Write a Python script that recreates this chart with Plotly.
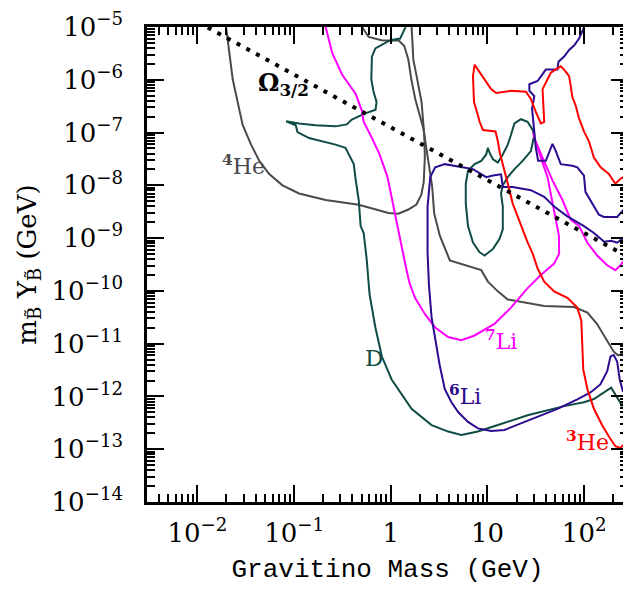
import numpy as np
import plotly.graph_objects as go

# ---------------- data (gravitino mass in GeV, m_B Y_B in GeV) ----------------
he4_a_mass = [0.0198, 0.0215, 0.0232, 0.0261, 0.0294, 0.0359, 0.0437, 0.0553, 0.0758, 0.1125,
              0.212, 0.466, 0.692, 0.947, 1.20, 1.52, 1.84, 2.07, 2.19, 2.25, 2.22, 2.08, 1.85,
              1.71, 1.67, 1.64]
he4_a_mY = [1e-5, 2.75e-6, 1.02e-6, 3.77e-7, 1.39e-7, 5.91e-8, 2.91e-8, 1.64e-8, 1.0e-8, 7.0e-9,
            5.27e-9, 4.27e-9, 3.53e-9, 2.98e-9, 2.90e-9, 3.48e-9, 4.32e-9, 6.62e-9, 1.15e-8, 3.35e-8,
            8.93e-8, 3.77e-7, 1.17e-6, 2.39e-6, 5.62e-6, 1e-5]

he4_b_mass = [0.504, 0.590, 0.802, 1.02, 1.20, 1.38, 1.52, 1.63, 1.79, 1.97, 2.17, 2.33, 2.50,
              2.68, 2.81, 3.22, 4.08, 5.82, 8.62, 10.1, 12.8, 16.2, 24.1, 38.6, 78.6, 108, 136,
              173, 202, 224, 252, 277, 291]
he4_b_mY = [1e-5, 6.47e-6, 5.62e-6, 5.46e-6, 5.62e-6, 4.35e-6, 2.39e-6, 1.02e-6, 4.34e-7, 2.29e-7,
            1.21e-7, 5.13e-8, 2.19e-8, 9.31e-9, 2.94e-9, 1.10e-9, 3.79e-10, 3.06e-10, 2.47e-10,
            1.50e-10, 9.8e-11, 6.87e-11, 5.97e-11, 5.16e-11, 4.94e-11, 3.89e-11, 2.36e-11, 1.16e-11,
            7.06e-12, 6.03e-12, 6.56e-12, 1.54e-11, 3.62e-11]

d_main_mass = [1.42, 1.25, 0.986, 0.809, 0.692, 0.638, 0.629, 0.664, 0.713, 0.696, 0.537, 0.395,
               0.351, 0.268, 0.167, 0.1125, 0.0828, 0.104, 0.1086, 0.1426, 0.195, 0.268, 0.340,
               0.367, 0.414, 0.434, 0.466, 0.488, 0.524, 0.562, 0.604, 0.692, 0.809, 1.02, 1.64,
               2.64, 3.92, 5.37, 7.96, 12.8, 26.0, 62.0, 99.5, 126, 160, 190, 219, 246, 260, 284]
d_main_mY = [1e-5, 6.04e-6, 5.62e-6, 4.54e-6, 3.94e-6, 2.75e-6, 1.02e-6, 5.85e-7, 3.82e-7, 2.71e-7,
             2.29e-7, 1.77e-7, 1.43e-7, 1.31e-7, 1.37e-7, 1.49e-7, 1.63e-7, 1.37e-7, 1.02e-7, 7.87e-8,
             6.84e-8, 5.91e-8, 5.13e-8, 3.85e-8, 2.52e-8, 1.26e-8, 5.27e-9, 1.69e-9, 1.25e-9, 4.12e-10,
             8.51e-11, 2.05e-11, 5.70e-12, 2.10e-12, 5.83e-13, 2.87e-13, 2.16e-13, 1.87e-13, 2.16e-13,
             2.87e-13, 4.40e-13, 6.55e-13, 7.76e-13, 8.93e-13, 1.19e-12, 1.47e-12, 9.6e-13, 6.75e-13,
             7.76e-13, 1.05e-12]

d_loop_mass = [10.1, 10.5, 11.4, 12.8, 14.4, 16.2, 17.5, 18.2, 19.0, 22.2, 26.0, 29.3, 30.5, 28.1,
               23.1, 19.0, 16.2, 14.4, 13.8, 14.4, 14.4, 13.3, 11.4, 9.34, 8.29, 7.08, 6.29, 5.96,
               5.96, 6.29, 7.36, 8.62, 9.70, 10.1]
d_loop_mY = [5.13e-8, 4.15e-8, 3.12e-8, 2.70e-8, 3.85e-8, 5.91e-8, 9.06e-8, 1.21e-7, 1.49e-7, 1.79e-7,
             1.60e-7, 1.12e-7, 9.06e-8, 4.46e-8, 2.91e-8, 2.03e-8, 1.43e-8, 1.0e-8, 7.0e-9, 3.96e-9,
             1.47e-9, 9.57e-10, 6.24e-10, 4.69e-10, 5.40e-10, 8.28e-10, 1.69e-9, 4.56e-9, 1.07e-8,
             1.90e-8, 2.52e-8, 2.91e-8, 3.85e-8, 5.13e-8]

li7_mass = [0.212, 0.248, 0.313, 0.434, 0.504, 0.524, 0.638, 0.766, 0.925, 1.11, 1.26, 1.42, 1.56,
            1.78, 2.26, 2.86, 3.92, 5.37, 7.36, 11.8, 17.5, 26.0, 35.6, 48.9, 55.1, 54.8, 49.3,
            41.8, 35.6, 31.6, 29.6, 31.4, 37.1, 47.0, 59.6, 72.5, 88.5, 108, 136, 173, 210, 237, 284]
li7_mY = [1e-5, 3.23e-6, 1.26e-6, 5.37e-7, 2.55e-7, 1.60e-7, 7.87e-8, 3.85e-8, 1.43e-8, 2.59e-9,
          8.9e-10, 3.06e-10, 1.42e-10, 7.38e-11, 3.62e-11, 2.05e-11, 1.34e-11, 1.16e-11, 1.43e-11,
          2.36e-11, 4.82e-11, 1.13e-10, 2.0e-10, 3.29e-10, 5.1e-10, 1.10e-9, 3.20e-9, 1.43e-8,
          3.35e-8, 6.35e-8, 9.75e-8, 6.92e-8, 3.35e-8, 1.24e-8, 5.27e-9, 2.25e-9, 1.69e-9, 8.17e-10,
          4.69e-10, 3.06e-10, 2.47e-10, 3.06e-10, 4.69e-10]

li6_a_mass = [100, 88.5, 78.6, 69.8, 62.0, 54.2, 52.9, 40.1, 33.0, 27.1, 27.1, 30.5, 28.9, 29.3,
              30.7, 31.6, 33.4, 40.1, 47.0, 50.9, 57.2, 75.5, 84.9, 99.5, 103, 116, 142, 160, 219,
              256, 284]
li6_a_mY = [1e-5, 6.04e-6, 4.44e-6, 3.67e-6, 2.75e-6, 2.20e-6, 1.56e-6, 1.56e-6, 9.48e-7, 8.22e-7,
            6.18e-7, 4.93e-7, 2.83e-7, 2.10e-7, 9.75e-8, 5.13e-8, 2.91e-8, 2.91e-8, 6.09e-8, 4.46e-8,
            2.52e-8, 2.35e-8, 2.19e-8, 1.53e-8, 7.52e-9, 5.27e-9, 2.78e-9, 2.51e-9, 2.51e-9, 3.44e-9,
            4.91e-9]

li6_b_mass = [284, 256, 219, 190, 161, 126, 99.5, 67.0, 48.9, 38.6, 28.1, 18.2, 14.4, 13.8, 11.4,
              9.70, 7.08, 5.58, 4.41, 3.62, 2.88, 2.56, 2.40, 2.40, 2.48, 2.64, 2.86, 3.22, 3.62,
              4.24, 4.97, 6.29, 7.96, 10.9, 15.0, 28.1, 52.9, 84.9, 116, 147, 173, 187, 202, 219,
              233, 252, 266, 284]
li6_b_mY = [1.10e-9, 1.02e-9, 8.17e-10, 8.9e-10, 8.53e-10, 1.25e-9, 1.69e-9, 2.59e-9, 3.96e-9,
            6.07e-9, 8.09e-9, 9.31e-9, 9.31e-9, 1.62e-8, 1.53e-8, 1.43e-8, 2.03e-8, 2.19e-8, 2.35e-8,
            2.52e-8, 2.19e-8, 1.43e-8, 3.96e-9, 5.33e-10, 1.30e-10, 3.18e-11, 1.34e-11, 3.72e-12,
            1.37e-12, 7.76e-13, 5.07e-13, 3.30e-13, 2.48e-13, 2.22e-13, 2.32e-13, 3.61e-13, 5.83e-13,
            8.83e-13, 1.19e-12, 1.69e-12, 3.0e-12, 5.70e-12, 6.11e-12, 4.60e-12, 2.10e-12, 1.23e-12,
            1.82e-12, 3.98e-12]

he3_mass = [284, 266, 237, 210, 180, 153, 126, 108, 97.9, 95.5, 93.3, 84.9, 67.0, 48.9, 38.6, 33.0,
            29.3, 26.0, 23.1, 20.5, 18.2, 16.9, 15.6, 14.4, 13.4, 12.8, 12.1, 8.97, 8.29, 7.96, 7.25,
            7.08, 7.36, 7.96, 10.9, 12.3, 17.5, 25.0, 28.1, 31.6, 35.6, 38.6, 37.1, 45.2, 57.2, 62.0,
            69.8, 72.5, 75.5, 81.6, 88.5, 99.5, 112, 126, 148, 180, 210, 237, 256, 284]
he3_mY = [1.87e-13, 1.31e-13, 1.06e-13, 1.14e-13, 1.74e-13, 2.87e-13, 5.83e-13, 1.37e-12, 3.22e-12,
          1.34e-11, 2.72e-11, 4.82e-11, 7.38e-11, 9.8e-11, 1.50e-10, 2.65e-10, 5.1e-10, 8.28e-10,
          1.47e-9, 2.59e-9, 4.56e-9, 8.09e-9, 1.43e-8, 2.52e-8, 4.15e-8, 6.84e-8, 1.05e-7, 1.12e-7,
          1.60e-7, 2.13e-7, 3.77e-7, 1.17e-6, 1.93e-6, 1.56e-6, 6.65e-7, 5.61e-7, 6.18e-7, 5.93e-7,
          4.34e-7, 2.46e-7, 1.49e-7, 1.60e-7, 6.65e-7, 1.36e-6, 1.80e-6, 1.56e-6, 1.17e-6, 7.66e-7,
          4.67e-7, 3.26e-7, 1.85e-7, 1.05e-7, 6.84e-8, 3.35e-8, 2.19e-8, 1.64e-8, 1.07e-8, 1.33e-8,
          1.43e-8, 1.15e-8]

omega_mass = [0.0128, 300]
omega_mY = [9.8e-6, 4.17e-10]

x_tick_vals = [1e-2, 1e-1, 1, 10, 100]
x_tick_text = ["10<sup>−2</sup>", "10<sup>−1</sup>", "1", "10", "10<sup>2</sup>"]
y_tick_vals = [10.0 ** e for e in range(-14, -4)]
y_tick_text = ["10<sup>−%d</sup>" % (-e) for e in range(-14, -4)]

# ---------------- styles ----------------
C_HE4 = "#4a4a4a"
C_D = "#0e4c45"
C_LI7 = "#ff00ff"
C_LI6 = "#2c0b90"
C_HE3 = "#ff0000"
FONT = "DejaVu Serif"
MONO = "Liberation Mono"

fig = go.Figure()


def add_line(x, y, color, width=2.0, dash=None):
    fig.add_trace(go.Scatter(x=x, y=y, mode="lines",
                             line=dict(color=color, width=width, dash=dash),
                             hoverinfo="skip", showlegend=False))


add_line(he4_a_mass, he4_a_mY, C_HE4)
add_line(he4_b_mass, he4_b_mY, C_HE4)
add_line(d_main_mass, d_main_mY, C_D)
add_line(d_loop_mass, d_loop_mY, C_D)
add_line(li7_mass, li7_mY, C_LI7)
add_line(li6_a_mass, li6_a_mY, C_LI6)
add_line(li6_b_mass, li6_b_mY, C_LI6)
add_line(he3_mass, he3_mY, C_HE3)
add_line(omega_mass, omega_mY, "black", width=4, dash="4px,7px")

# label text, anchor mass, anchor m_B Y_B, colour, x-anchor, font size
labels = [
    ("<sup><b>4</b></sup>He", 0.0299, 2.4e-8, C_HE4, "center", 22),
    ("<b>Ω<sub>3/2</sub></b>", 0.0407, 8.4e-7, "black", "left", 24),
    ("D", 0.664, 5.4e-12, C_D, "center", 23),
    ("<sup><b>7</b></sup>Li", 13.7, 1.15e-11, C_LI7, "center", 22),
    ("<sup><b>6</b></sup>Li", 5.86, 1.05e-12, C_LI6, "center", 22),
    ("<sup><b>3</b></sup>He", 108, 1.45e-13, C_HE3, "center", 22),
]
for txt, lx, ly, col, anc, sz in labels:
    fig.add_annotation(x=np.log10(lx), y=np.log10(ly), xref="x", yref="y", text=txt,
                       showarrow=False, xanchor=anc, yanchor="middle",
                       font=dict(family=FONT, size=sz, color=col))

minor_x = [k * 10.0 ** d for d in range(-3, 3) for k in range(2, 10)
           if 10 ** -2.521 < k * 10.0 ** d < 10 ** 2.453]
minor_y = [k * 10.0 ** d for d in range(-14, -5) for k in range(2, 10)]

axis_common = dict(type="log", showline=True, linewidth=2.5, linecolor="black", mirror="ticks",
                   ticks="inside", ticklen=17, tickwidth=2, tickcolor="black",
                   showgrid=False, zeroline=False, ticklabeloverflow="allow",
                   tickfont=dict(family=FONT, size=26, color="black"))

fig.update_xaxes(range=[-2.521, 2.453], tickmode="array", tickvals=x_tick_vals,
                 ticktext=x_tick_text, ticklabelstandoff=6,
                 minor=dict(ticks="inside", ticklen=8, tickwidth=1.5, tickcolor="black",
                            tickmode="array", tickvals=minor_x, showgrid=False),
                 title=dict(text="Gravitino Mass (GeV)", standoff=12,
                            font=dict(family=MONO, size=26, color="black")),
                 **axis_common)
fig.update_yaxes(range=[-14, -5], tickmode="array", tickvals=y_tick_vals,
                 ticktext=y_tick_text, ticklabelstandoff=16,
                 minor=dict(ticks="inside", ticklen=8, tickwidth=1.5, tickcolor="black",
                            tickmode="array", tickvals=minor_y, showgrid=False),
                 title=dict(text="m<sub>B\u0303</sub> Y<sub>B\u0303</sub> (GeV)", standoff=8,
                            font=dict(family=FONT, size=26, color="black")),
                 **axis_common)

# the page body adds an 8 px margin, so the figure is sized to fit the 631x590 window
fig.update_layout(width=623, height=582, autosize=False,
                  margin=dict(l=139, r=0, t=8.5, b=88, pad=0),
                  paper_bgcolor="white", plot_bgcolor="white", showlegend=False)

fig.write_html("out.html")
